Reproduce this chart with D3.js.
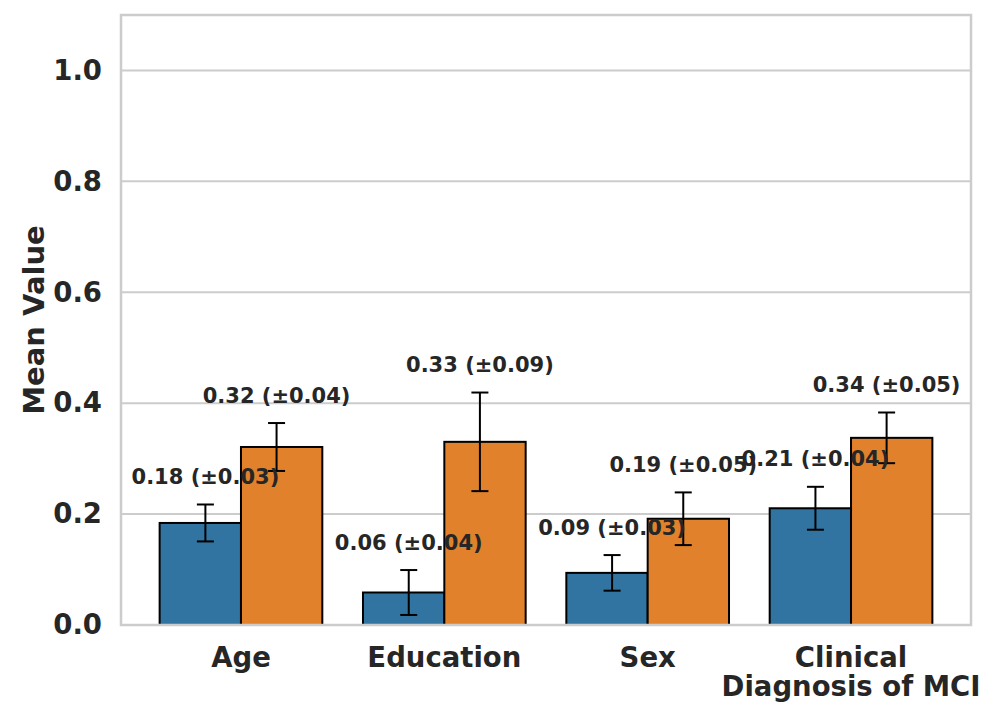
<!DOCTYPE html>
<html>
<head>
<meta charset="utf-8">
<script src="https://cdn.jsdelivr.net/npm/d3@7"></script>
<style>
    body { margin: 0; background: #fff; }
    text { font-family: "DejaVu Sans", sans-serif; font-weight: bold; fill: #262626; }
</style>
</head>
<body>
<div id="chart"></div>
<script>
// Data.
var categories = ["Age", "Education", "Sex", "Clinical\nDiagnosis of MCI"];
var groups = ["g1", "g2"];
var meansA = [0.184, 0.0586, 0.094, 0.2105];
var errsA = [0.0333, 0.0405, 0.0321, 0.0387];
var meansB = [0.321, 0.3303, 0.1916, 0.3375];
var errsB = [0.0432, 0.0889, 0.0475, 0.0457];
var colors = ["#3274a1", "#e1812c"];
var yTicks = [0, 0.2, 0.4, 0.6, 0.8, 1.0];

var svgWidth = 997;
var svgHeight = 718;

var margin = { top: 15, bottom: 93, right: 26, left: 121 };
var width = svgWidth - margin.left - margin.right;
var height = svgHeight - margin.top - margin.bottom;

var svg = d3.select("#chart")
    .append("svg")
    .attr("width", svgWidth)
    .attr("height", svgHeight);

var chartGroup = svg.append("g")
    .attr("transform", `translate(${margin.left}, ${margin.top})`);

// Scales.
var xScale = d3.scaleBand()
    .domain(categories)
    .range([0, width])
    .paddingInner(0.2)
    .paddingOuter(0.19);

var step = xScale.step();

var xSub = d3.scaleBand()
    .domain(groups)
    .range([0, xScale.bandwidth()]);

var yScale = d3.scaleLinear()
    .domain([0, 1.1])
    .range([height, 0]);

// Grid lines.
chartGroup.append("g")
    .selectAll("line")
    .data(yTicks)
    .enter()
    .append("line")
    .attr("x1", 0)
    .attr("x2", width)
    .attr("y1", d => yScale(d))
    .attr("y2", d => yScale(d))
    .attr("stroke", "#cccccc")
    .attr("stroke-width", 2);

// Build rows from the arrays.
var rows = [];
categories.forEach(function(c, i) {
    rows.push({ cat: c, group: "g1", mean: meansA[i], err: errsA[i], color: colors[0], side: -1 });
    rows.push({ cat: c, group: "g2", mean: meansB[i], err: errsB[i], color: colors[1], side: 1 });
});

// Error bars sit slightly toward the group centre.
function errX(d) {
    return xScale(d.cat) + xScale.bandwidth() / 2 + d.side * 0.175 * step;
}

// Bars.
chartGroup.selectAll("rect.bar")
    .data(rows)
    .enter()
    .append("rect")
    .attr("class", "bar")
    .attr("x", d => xScale(d.cat) + xSub(d.group))
    .attr("width", xSub.bandwidth())
    .attr("y", d => yScale(d.mean))
    .attr("height", d => yScale(0) - yScale(d.mean))
    .attr("fill", d => d.color)
    .attr("stroke", "#000")
    .attr("stroke-width", 2);

// Error bars.
var errGroup = chartGroup.append("g");
rows.forEach(function(d) {
    var x = errX(d);
    var y1 = yScale(d.mean + d.err);
    var y0 = yScale(d.mean - d.err);
    errGroup.append("line")
        .attr("x1", x).attr("x2", x)
        .attr("y1", y1).attr("y2", y0)
        .attr("stroke", "#000").attr("stroke-width", 2);
    [y1, y0].forEach(function(yy) {
        errGroup.append("line")
            .attr("x1", x - 8.5).attr("x2", x + 8.5)
            .attr("y1", yy).attr("y2", yy)
            .attr("stroke", "#000").attr("stroke-width", 2);
    });
});

// Value labels.
chartGroup.selectAll("text.val")
    .data(rows)
    .enter()
    .append("text")
    .attr("class", "val")
    .attr("x", d => errX(d))
    .attr("y", d => yScale(d.mean + d.err + 0.05))
    .attr("dy", "0.35em")
    .attr("text-anchor", "middle")
    .style("font-size", "21px")
    .text(d => `${d.mean.toFixed(2)} (±${d.err.toFixed(2)})`);

// Frame.
chartGroup.append("rect")
    .attr("x", 0)
    .attr("y", 0)
    .attr("width", width)
    .attr("height", height)
    .attr("fill", "none")
    .attr("stroke", "#cccccc")
    .attr("stroke-width", 2.5);

// Y axis.
var leftAxis = d3.axisLeft(yScale)
    .tickValues(yTicks)
    .tickFormat(d3.format(".1f"))
    .tickSize(0)
    .tickPadding(19);

var yAxis = chartGroup.append("g").call(leftAxis);
yAxis.select(".domain").remove();
yAxis.selectAll("text")
    .style("font-size", "27.5px")
    .attr("fill", "#262626")
    .attr("font-family", "DejaVu Sans")
    .attr("font-weight", "bold");

// X axis labels (multi-line).
var xLabels = chartGroup.append("g")
    .selectAll("text")
    .data(categories)
    .enter()
    .append("text")
    .attr("text-anchor", "middle")
    .attr("transform", d => `translate(${xScale(d) + xScale.bandwidth() / 2}, ${height + 42})`)
    .style("font-size", "27.5px");

xLabels.each(function(d) {
    var el = d3.select(this);
    d.split("\n").forEach(function(line, i) {
        el.append("tspan")
            .attr("x", 0)
            .attr("y", i * 29)
            .text(line);
    });
});

// Y axis label.
chartGroup.append("text")
    .attr("transform", "rotate(-90)")
    .attr("x", -height / 2)
    .attr("y", -margin.left + 44)
    .attr("text-anchor", "middle")
    .style("font-size", "29px")
    .text("Mean Value");
</script>
</body>
</html>
